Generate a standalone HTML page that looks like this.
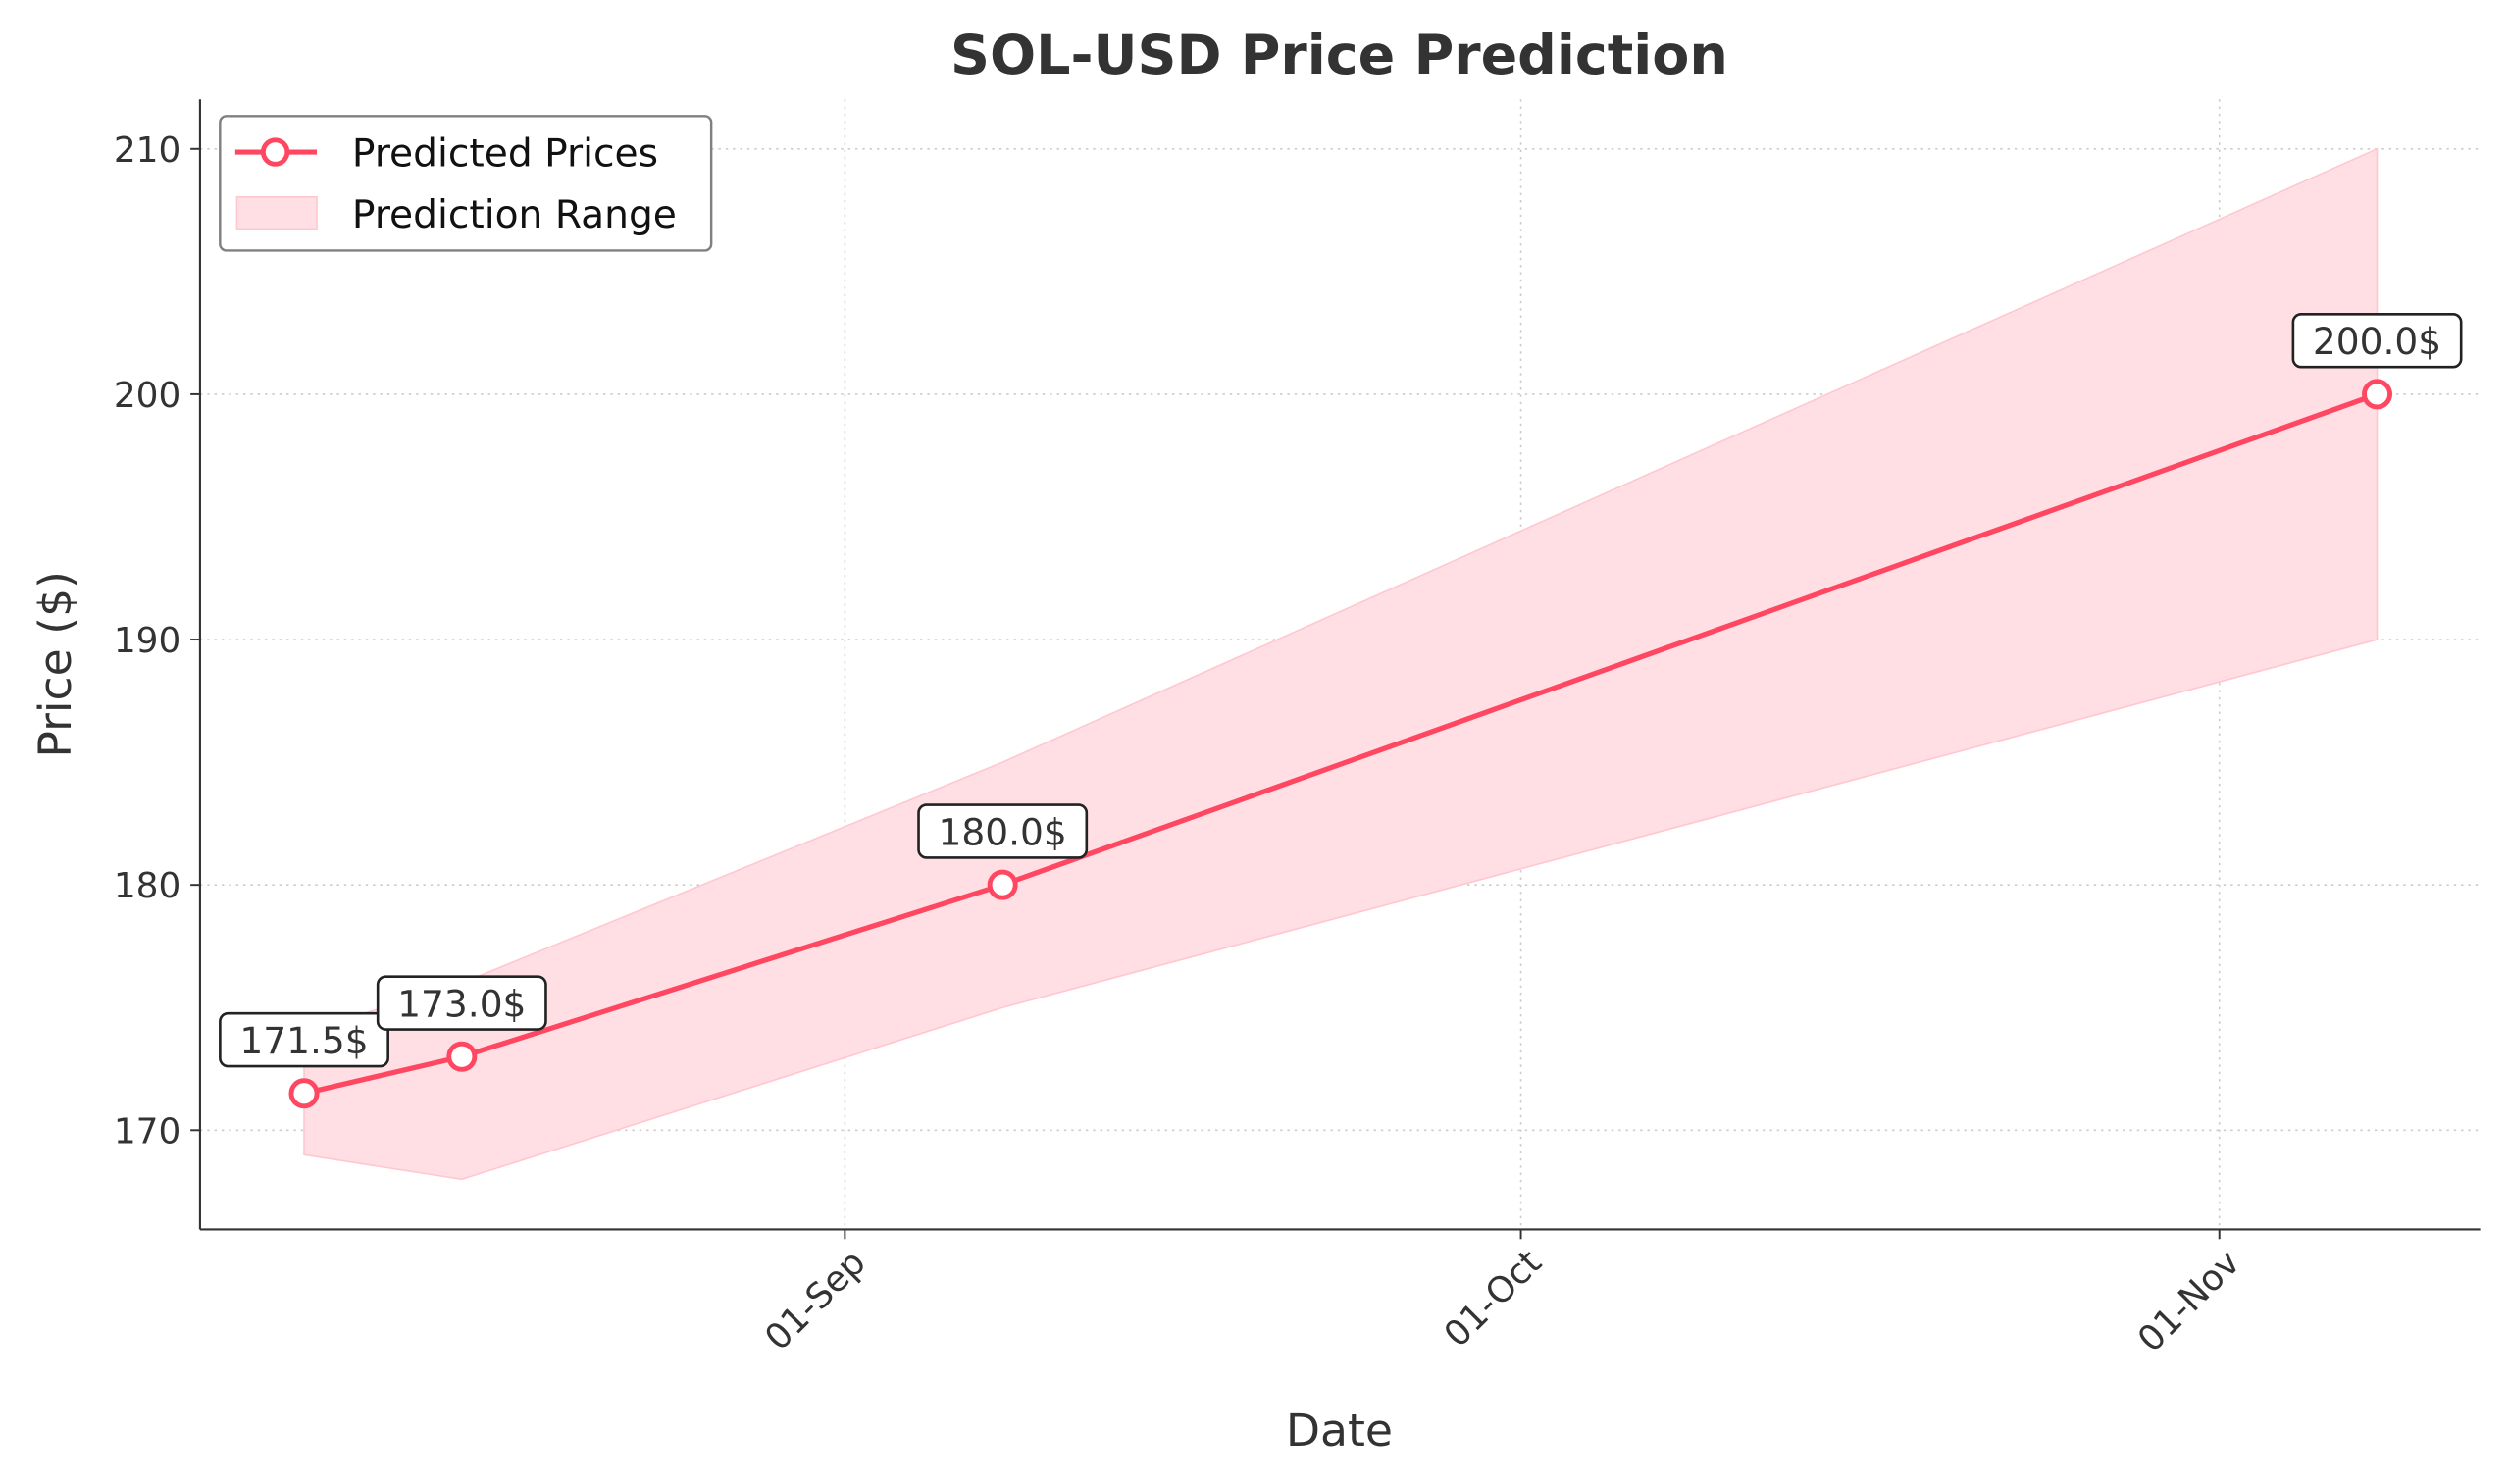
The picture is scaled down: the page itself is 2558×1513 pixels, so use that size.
<!DOCTYPE html>
<html><head><meta charset="utf-8"><style>
html,body{margin:0;padding:0;background:#fff;}
svg{display:block;font-family:"DejaVu Sans","Liberation Sans",sans-serif;}
</style></head><body>
<svg id="chart" width="2558" height="1513" viewBox="0 0 1568 927" preserveAspectRatio="none" xmlns="http://www.w3.org/2000/svg">
<rect width="1568" height="927" fill="#fff"/>
<text x="837" y="46" text-anchor="middle" font-size="34" font-weight="bold" fill="#333">SOL-USD Price Prediction</text>
<g id="grid"></g>
<g id="band"></g>
<g id="line"></g>
<g id="axes"></g>
<text x="837" y="903" text-anchor="middle" font-size="28" fill="#333">Date</text>
<text transform="translate(44,415) rotate(-90)" text-anchor="middle" font-size="28" fill="#333">Price ($)</text>
<g>
<rect x="137.5" y="72.5" width="307" height="84" rx="4" fill="#fff" stroke="#808080" stroke-width="1.5"/>
<line x1="147" y1="95" x2="198" y2="95" stroke="#ff4762" stroke-width="3.2"/>
<circle cx="172" cy="95" r="7.5" fill="#fff" stroke="#ff4762" stroke-width="3"/>
<text x="220" y="104" font-size="24" fill="#111">Predicted Prices</text>
<rect x="148" y="123" width="50" height="20" fill="#ffdfe4" stroke="#ffc8d0"/>
<text x="220" y="142" font-size="24" fill="#111">Prediction Range</text>
</g>
</svg>
<script>
const dates=["2024-08-08","2024-08-15","2024-09-08","2024-11-08"];
const predicted=[171.5,173.0,180.0,200.0];
const lower=[169,168,175,190];
const upper=[174,176,185,210];
const yTicks=[170,180,190,200,210];
const xTickDates=["2024-09-01","2024-10-01","2024-11-01"];
const xTickLabels=["01-Sep","01-Oct","01-Nov"];
const NS="http://www.w3.org/2000/svg";
const L=125,R=1550,T=62,B=768;
const d0=Date.UTC(2024,8,1);
function days(s){const p=s.split("-");return (Date.UTC(+p[0],+p[1]-1,+p[2])-d0)/86400000;}
function x(s){return 528+days(s)*(1387-528)/61;}
function y(v){return 706-(v-170)*(706-93)/40;}
function mk(tag,attrs,parent){const e=document.createElementNS(NS,tag);for(const k in attrs)e.setAttribute(k,attrs[k]);parent.appendChild(e);return e;}
const grid=document.getElementById("grid"),axes=document.getElementById("axes"),band=document.getElementById("band"),line=document.getElementById("line");
yTicks.forEach(v=>{
 const g=mk("line",{x1:L,x2:R,y1:y(v),y2:y(v),stroke:"#ccc","stroke-dasharray":"1.5,3","stroke-width":1},grid);
 
 
 mk("line",{x1:L-6,x2:L,y1:y(v),y2:y(v),stroke:"#333","stroke-width":1.2},axes);
 const t=mk("text",{x:L-12,y:y(v)+8,"text-anchor":"end","font-size":22,fill:"#333"},axes);
 t.textContent=v;
 
 
});
xTickDates.forEach((d,i)=>{
 const xx=x(d);
 const g=mk("line",{x1:xx,x2:xx,y1:T,y2:B,stroke:"#ccc","stroke-dasharray":"1.5,3","stroke-width":1},grid);
 
 
 mk("line",{x1:xx,x2:xx,y1:B,y2:B+6,stroke:"#333","stroke-width":1.2},axes);
 const t=mk("text",{transform:`translate(${xx+14},${B+22}) rotate(-45)`,"text-anchor":"end","font-size":22,fill:"#333"},axes);
 t.textContent=xTickLabels[i];
 
 
});
mk("line",{x1:L,x2:L,y1:T,y2:B,stroke:"#333","stroke-width":1.3},axes);
mk("line",{x1:L,x2:R,y1:B,y2:B,stroke:"#333","stroke-width":1.3},axes);
let pts=dates.map((d,i)=>x(d)+","+y(upper[i]));
for(let i=dates.length-1;i>=0;i--)pts.push(x(dates[i])+","+y(lower[i]));
const poly=mk("polygon",{points:pts.join(" "),fill:"#ffdfe4",stroke:"#ffc8d0","stroke-width":1},band);


const pl=mk("polyline",{points:dates.map((d,i)=>x(d)+","+y(predicted[i])).join(" "),fill:"none",stroke:"#ff4762","stroke-width":3.2},line);


dates.forEach((d,i)=>{
 const cx=x(d),cy=y(predicted[i]);
 const c=mk("circle",{cx:cx,cy:cy,r:8,fill:"#fff",stroke:"#ff4762","stroke-width":3},line);
 
 
});
dates.forEach((d,i)=>{
 const cx=x(d),cy=y(predicted[i]);
 const lbl=predicted[i].toFixed(1)+"$";
 const w=lbl.length*14.5+18;
 const r=mk("rect",{x:cx-w/2,y:cy-50,width:w,height:33,rx:5,fill:"#fff",stroke:"#222","stroke-width":1.6},line);
 
 
 const t=mk("text",{x:cx,y:cy-25,"text-anchor":"middle","font-size":23,fill:"#333"},line);
 t.textContent=lbl;
 
 
});
</script>
</body></html>
